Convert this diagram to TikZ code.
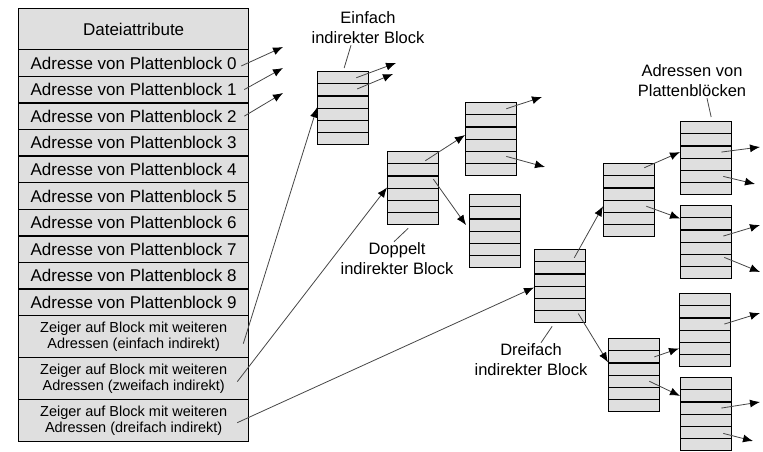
\documentclass[tikz,border=0pt]{standalone}
\usepackage{fontspec}
\setmainfont{Liberation Sans}
\usetikzlibrary{arrows.meta}

\tikzset{
  feld/.style={draw, fill=gray!25, line width=1.3pt, minimum width=230pt,
    inner sep=0pt, anchor=north west, font=\fontsize{17}{20}\selectfont},
  zelle/.style={draw, fill=gray!25, line width=1.3pt, minimum width=51pt,
    minimum height=12.17pt, inner sep=0pt, anchor=north west},
  zeiger/.style={draw=gray!55!black, line width=0.8pt,
    -{Latex[length=10pt,width=8pt,black]}},
  leiter/.style={draw=gray!55!black, line width=0.8pt},
  beschriftung/.style={align=center, inner sep=1pt,
    font=\fontsize{16.5}{20}\selectfont}
}

\begin{document}
\begin{tikzpicture}[x=1pt,y=-1pt]
\useasboundingbox (0,0) rectangle (763,452);

\node[feld, minimum height=41pt] (attr) at (18,8) {Dateiattribute};
\foreach \i in {0,...,9}
  \node[feld, minimum height=26.6pt] (r\i) at (18,{49+26.6*\i})
    {Adresse von Plattenblock \i};
\foreach \art [count=\j] in {einfach,zweifach,dreifach}
  \node[feld, minimum height=42pt, align=center,
    font=\fontsize{14.5}{16}\selectfont] (z\j) at (18,{315+42*(\j-1)})
    {Zeiger auf Block mit weiteren\\Adressen (\art\ indirekt)};

\foreach \name/\x/\y in {E/317/71, D/387/151, DA/465/102, DB/469/194,
    T/534/249, TA/603/163, TB/608/338,
    R1/680/121, R2/680/205, R3/679/293, R4/680/377}
  \foreach \k in {1,...,6}
    \node[zelle] (\name-\k) at (\x,{\y+12.17*(\k-1)}) {};

\node[beschriftung] (einfach) at (368,28) {Einfach\\indirekter Block};
\node[beschriftung] (doppelt) at (397,259) {Doppelt\\indirekter Block};
\node[beschriftung] (dreifach) at (531,360) {Dreifach\\indirekter Block};
\node[beschriftung] (adressen) at (692,81) {Adressen von\\Plattenblöcken};

\draw[leiter] ([xshift=-17pt]einfach.south) -- ([xshift=1pt,yshift=3pt]E-1.north);
\draw[leiter] ([xshift=-5pt,yshift=-3pt]D-6.south) -- ([xshift=-3pt]doppelt.north);
\draw[leiter] ([xshift=-8pt,yshift=-3pt]T-6.south) -- ([xshift=10pt]dreifach.north);
\draw[leiter] ([xshift=15pt]adressen.south) -- ([xshift=5pt,yshift=4pt]R1-1.north);

\path (283,47) coordinate (p0) (283,68) coordinate (p1) (283,93) coordinate (p2);
\draw[zeiger] ([xshift=-8pt,yshift=-3pt]r0.east) -- (p0);
\draw[zeiger] ([xshift=-5pt]r1.east) -- (p1);
\draw[zeiger] ([xshift=-5pt]r2.east) -- (p2);

\draw[zeiger] ([xshift=-6pt,yshift=-7pt]z1.east) -- (E-4.north west);
\draw[zeiger] ([xshift=-12pt,yshift=-3pt]z2.east) -- (D-4.north west);
\draw[zeiger] ([xshift=-12pt,yshift=-2pt]z3.east) -- ([yshift=-2pt]T-4.north west);

\path (396,63) coordinate (e1) (393,74) coordinate (e2);
\draw[zeiger] ([xshift=-13pt]E-1.east) -- (e1);
\draw[zeiger] ([xshift=-12pt,yshift=1pt]E-2.east) -- (e2);

\draw[zeiger] ([xshift=-14pt,yshift=-3pt]D-1.east) -- ([yshift=-2pt]DA-3.west);
\draw[zeiger] ([xshift=-6pt,yshift=3pt]D-3.east) -- ([xshift=-3pt]DB-3.west);

\path (542,97) coordinate (da1) (545,167) coordinate (da2);
\draw[zeiger] ([xshift=-11pt]DA-1.east) -- (da1);
\draw[zeiger] ([xshift=-11pt,yshift=1pt]DA-5.east) -- (da2);

\draw[zeiger] ([xshift=-12pt,yshift=-2pt]T-1.east) -- (TA-4.west);
\draw[zeiger] ([xshift=-8pt,yshift=3pt]T-6.east) -- (TB-3.north west);

\draw[zeiger] ([xshift=-11pt,yshift=2pt]TA-1.east) -- (R1-3.west);
\draw[zeiger] ([xshift=-9pt]TA-4.east) -- (R2-1.south west);
\draw[zeiger] ([xshift=-6pt]TB-2.east) -- (R3-5.west);
\draw[zeiger] ([xshift=-11pt]TB-4.east) -- (R4-2.west);

\path (760,147) coordinate (q1) (755,184) coordinate (q2)
      (760,225) coordinate (q3) (760,272) coordinate (q4)
      (760,313) coordinate (q5) (760,402) coordinate (q6)
      (753,441) coordinate (q7);
\draw[zeiger] ([xshift=-11pt]R1-3.east) -- (q1);
\draw[zeiger] ([xshift=-9pt]R1-5.east) -- (q2);
\draw[zeiger] ([xshift=-9pt]R2-3.east) -- (q3);
\draw[zeiger] ([xshift=-8pt,yshift=3pt]R2-5.east) -- (q4);
\draw[zeiger] ([xshift=-7pt]R3-3.east) -- (q5);
\draw[zeiger] ([xshift=-11pt]R4-3.east) -- (q6);
\draw[zeiger] ([xshift=-9pt,yshift=-1pt]R4-5.east) -- (q7);
\end{tikzpicture}
\end{document}
